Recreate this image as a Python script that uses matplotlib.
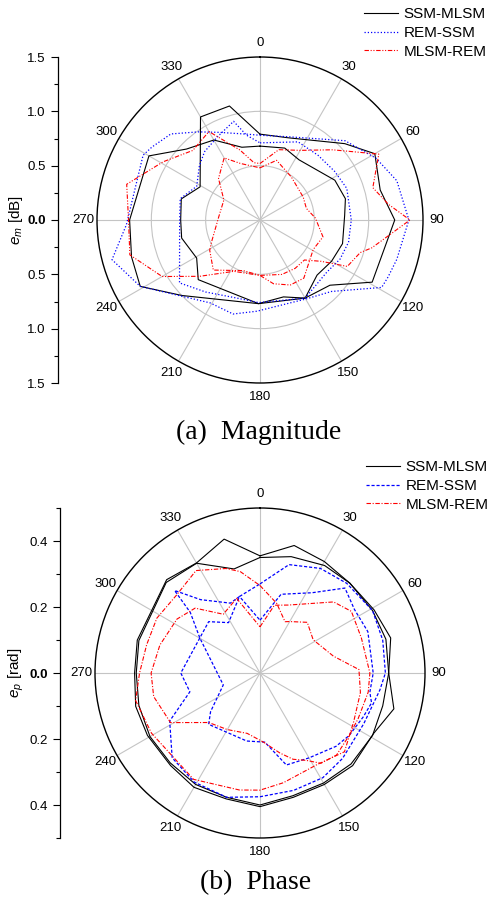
import numpy as np
import matplotlib
matplotlib.use('Agg')
import matplotlib.pyplot as plt

plt.rcParams['font.family'] = ['Liberation Sans', 'DejaVu Sans']
plt.rcParams['mathtext.fontset'] = 'custom'
plt.rcParams['mathtext.rm'] = 'Liberation Sans'
plt.rcParams['mathtext.it'] = 'Liberation Sans:italic'

# ---------------- data ----------------
series_labels = ['SSM-MLSM', 'REM-SSM', 'MLSM-REM']
angle_ticks = [0, 30, 60, 90, 120, 150, 180, 210, 240, 270, 300, 330]

# (a) Magnitude, e_m [dB]
mag_ssm_mlsm_1_th = [0, 19, 48, 60, 76, 90, 119, 133, 150, 163, 181, 226, 239, 257, 270, 285, 299, 330, 345, 360]
mag_ssm_mlsm_1_r = [0.79, 0.80, 1.05, 1.22, 1.14, 1.24, 1.18, 0.88, 0.83, 0.74, 0.77, 0.79, 0.68, 0.74, 0.73, 0.75, 0.63, 1.095, 1.086, 0.79]
mag_ssm_mlsm_2_th = [0, 19, 33, 62, 76, 87, 106, 120, 134, 150, 181, 226, 241, 254, 270, 300, 314, 330, 346, 360]
mag_ssm_mlsm_2_r = [0.68, 0.70, 0.66, 0.78, 0.81, 0.78, 0.79, 0.76, 0.73, 0.83, 0.77, 1.00, 1.26, 1.23, 1.20, 1.18, 0.94, 0.85, 0.69, 0.68]

mag_rem_ssm_1_th = [0, 19, 47, 62, 74, 90, 106, 114, 119, 135, 150, 182, 196, 211, 241, 255, 268, 299, 304, 314, 325, 335, 351, 360]
mag_rem_ssm_1_r = [0.78, 0.81, 1.07, 1.21, 1.31, 1.37, 1.31, 1.29, 1.28, 0.93, 0.84, 0.84, 0.90, 0.89, 1.26, 1.41, 1.23, 1.23, 1.20, 1.14, 0.99, 0.89, 0.80, 0.78]
mag_rem_ssm_2_th = [0, 26, 42, 57, 70, 90, 104, 116, 128, 150, 181, 197, 217, 232, 268, 285, 298, 312, 321, 333, 345, 351, 360]
mag_rem_ssm_2_r = [0.71, 0.80, 0.80, 0.82, 0.85, 0.84, 0.84, 0.82, 0.78, 0.83, 0.76, 0.75, 0.83, 0.94, 0.74, 0.76, 0.66, 0.75, 0.81, 0.86, 0.94, 0.79, 0.71]

mag_mlsm_rem_1_th = [0, 15, 30, 46, 61, 74, 83, 90, 97, 104, 108, 118, 124, 132, 144, 158, 180, 207, 227, 240, 255, 270, 285, 301, 316, 330, 344, 354, 360]
mag_mlsm_rem_1_r = [0.52, 0.67, 0.74, 0.93, 1.25, 1.08, 1.19, 1.38, 1.19, 1.06, 0.97, 0.91, 0.68, 0.55, 0.55, 0.54, 0.51, 0.53, 0.76, 1.04, 1.24, 1.21, 1.27, 1.04, 0.89, 0.94, 0.67, 0.53, 0.52]
mag_mlsm_rem_2_th = [0, 15.5, 36, 62, 76, 88, 105, 119, 143, 155, 168, 180, 198, 223, 239, 247, 275, 299, 315, 330, 341, 360]
mag_mlsm_rem_2_r = [0.48, 0.57, 0.49, 0.45, 0.44, 0.51, 0.60, 0.56, 0.67, 0.66, 0.60, 0.51, 0.49, 0.63, 0.54, 0.48, 0.38, 0.38, 0.54, 0.66, 0.55, 0.48]

# (b) Phase, e_p [rad]
pha_ssm_mlsm_1_th = [0, 15, 30, 45, 61, 75, 90, 105, 118, 135, 150, 165, 180, 195, 210, 224, 241, 255, 270, 285, 315, 330, 345, 360]
pha_ssm_mlsm_1_r = [0.355, 0.40, 0.39, 0.385, 0.395, 0.41, 0.39, 0.42, 0.39, 0.397, 0.39, 0.39, 0.405, 0.395, 0.40, 0.39, 0.39, 0.39, 0.38, 0.385, 0.40, 0.385, 0.42, 0.355]
pha_ssm_mlsm_2_th = [0, 15, 31, 45, 61, 75, 90, 105, 119, 135, 150, 165, 180, 195, 210, 225, 240, 255, 270, 285, 314, 330, 346, 360]
pha_ssm_mlsm_2_r = [0.35, 0.365, 0.38, 0.385, 0.39, 0.395, 0.39, 0.385, 0.39, 0.39, 0.385, 0.385, 0.40, 0.39, 0.39, 0.385, 0.385, 0.38, 0.375, 0.38, 0.395, 0.384, 0.325, 0.35]

pha_rem_ssm_1_th = [0, 15, 30, 44, 61, 75, 90, 98, 116, 136, 149, 164, 180, 195, 211, 226, 242, 255, 270, 315, 328, 345, 360]
pha_rem_ssm_1_r = [0.27, 0.34, 0.366, 0.378, 0.39, 0.385, 0.38, 0.367, 0.35, 0.36, 0.37, 0.37, 0.375, 0.39, 0.386, 0.37, 0.31, 0.22, 0.24, 0.22, 0.18, 0.24, 0.27]
pha_rem_ssm_2_th = [0, 15, 33, 45, 56, 69, 90, 100, 105, 113, 125, 134, 150, 164, 176, 191, 225, 232, 252, 300, 311, 314, 321, 337, 345, 360]
pha_rem_ssm_2_r = [0.16, 0.247, 0.29, 0.364, 0.345, 0.35, 0.343, 0.338, 0.35, 0.34, 0.33, 0.32, 0.297, 0.29, 0.21, 0.21, 0.22, 0.19, 0.117, 0.21, 0.28, 0.36, 0.286, 0.23, 0.24, 0.16]

pha_mlsm_rem_1_th = [0, 13.5, 26, 30, 43, 58, 77, 88, 101, 117.5, 133, 148, 168, 180, 190, 212, 241, 257.5, 270, 284, 298, 313, 328, 342, 349, 360]
pha_mlsm_rem_1_r = [0.265, 0.217, 0.173, 0.18, 0.21, 0.19, 0.228, 0.30, 0.31, 0.32, 0.35, 0.327, 0.34, 0.355, 0.36, 0.38, 0.376, 0.386, 0.365, 0.354, 0.354, 0.346, 0.366, 0.333, 0.313, 0.265]
pha_mlsm_rem_2_th = [0, 12, 22.6, 46, 56, 71, 90, 100, 115, 125, 137, 146, 152, 159, 166, 177, 192, 210, 226, 241, 257.5, 270, 285.6, 303, 315, 328, 342.6, 360]
pha_mlsm_rem_2_r = [0.14, 0.21, 0.223, 0.31, 0.334, 0.325, 0.333, 0.333, 0.328, 0.33, 0.34, 0.33, 0.30, 0.28, 0.25, 0.21, 0.187, 0.198, 0.216, 0.31, 0.33, 0.33, 0.315, 0.30, 0.278, 0.21, 0.237, 0.14]

# ---------------- styles ----------------
BLUE = '#0000ff'
RED = '#ff0000'
mag_styles = [dict(color='black', lw=0.8, linestyle='-'),
              dict(color=BLUE, lw=0.9, linestyle=(0, (1, 1.6))),
              dict(color=RED, lw=0.8, linestyle=(0, (4, 1.5, 1, 1.5, 1, 1.5)))]
pha_styles = [dict(color='black', lw=0.8, linestyle='-'),
              dict(color=BLUE, lw=0.9, linestyle=(0, (2.5, 1.5))),
              dict(color=RED, lw=0.8, linestyle=(0, (4, 1.5, 1, 1.5)))]

W, H = 491, 898
fig = plt.figure(figsize=(W / 100, H / 100), dpi=100)

TICK_FS = 9.5
LEG_FS = 11
CAP_FS = 20


def polar_panel(cx, cy, rad, rmax, rgrid, curves, styles):
    ax = fig.add_axes([(cx - rad) / W, 1 - (cy + rad) / H, 2 * rad / W, 2 * rad / H],
                      projection='polar')
    ax.set_theta_zero_location('N')
    ax.set_theta_direction(-1)
    ax.set_ylim(0, rmax)
    ax.set_xticks(np.deg2rad(angle_ticks))
    ax.set_xticklabels([str(a) for a in angle_ticks], fontsize=TICK_FS)
    ax.set_xticks(np.deg2rad(np.arange(15, 360, 30)), minor=True)
    ax.set_yticks(rgrid)
    ax.set_yticklabels([])
    ax.grid(True, which='major', color='#c4c4c4', lw=0.8)
    ax.tick_params(axis='x', which='major', direction='in', length=4, width=0.8, pad=3)
    ax.tick_params(axis='x', which='minor', direction='in', length=2.5, width=0.8)
    ax.tick_params(axis='y', length=0)
    ax.spines['polar'].set_linewidth(1.0)
    handles = []
    for k, group in enumerate(curves):
        for j, (th, r) in enumerate(group):
            ln, = ax.plot(np.deg2rad(th), r, **styles[k])
            if j == 0:
                handles.append(ln)
    return ax, handles


def side_axis(x, cy, rad, rmax, major, minor, label):
    ax = fig.add_axes([x / W, 1 - (cy + rad) / H, 0.0001, 2 * rad / H])
    ax.set_ylim(-rmax, rmax)
    for s in ['top', 'right', 'bottom']:
        ax.spines[s].set_visible(False)
    ax.spines['left'].set_linewidth(0.9)
    ax.patch.set_visible(False)
    ax.set_xticks([])
    ax.set_yticks(major)
    ax.set_yticklabels(['%.1f' % abs(v) for v in major])
    for t, v in zip(ax.get_yticklabels(), major):
        if v == 0:
            t.set_fontweight('bold')
    ax.set_yticks(minor, minor=True)
    ax.tick_params(axis='y', which='major', length=5, width=0.8, pad=4, labelsize=TICK_FS)
    ax.tick_params(axis='y', which='minor', length=3, width=0.8)
    fig.text(16 / W, 1 - cy / H, label, rotation=90, ha='center', va='center', fontsize=11)
    return ax


# ---- (a) Magnitude ----
mag_curves = [[(mag_ssm_mlsm_1_th, mag_ssm_mlsm_1_r), (mag_ssm_mlsm_2_th, mag_ssm_mlsm_2_r)],
              [(mag_rem_ssm_1_th, mag_rem_ssm_1_r), (mag_rem_ssm_2_th, mag_rem_ssm_2_r)],
              [(mag_mlsm_rem_1_th, mag_mlsm_rem_1_r), (mag_mlsm_rem_2_th, mag_mlsm_rem_2_r)]]
ax1, h1 = polar_panel(260, 220, 163, 1.5, [0.5, 1.0], mag_curves, mag_styles)
side_axis(58, 220, 163, 1.5, [-1.5, -1.0, -0.5, 0.0, 0.5, 1.0, 1.5],
          [-1.25, -0.75, -0.25, 0.25, 0.75, 1.25], r'$e_m$ [dB]')
fig.legend(h1, series_labels, loc='upper left', bbox_to_anchor=(364 / W, 1 - 7 / H),
           frameon=False, borderpad=0, borderaxespad=0, handlelength=2.2,
           handletextpad=0.4, labelspacing=0.32, fontsize=LEG_FS)
fig.text(259 / W, 1 - 432 / H, '(a)  Magnitude', ha='center', va='center',
         fontsize=CAP_FS, family=['Liberation Serif', 'DejaVu Serif'])

# ---- (b) Phase ----
pha_curves = [[(pha_ssm_mlsm_1_th, pha_ssm_mlsm_1_r), (pha_ssm_mlsm_2_th, pha_ssm_mlsm_2_r)],
              [(pha_rem_ssm_1_th, pha_rem_ssm_1_r), (pha_rem_ssm_2_th, pha_rem_ssm_2_r)],
              [(pha_mlsm_rem_1_th, pha_mlsm_rem_1_r), (pha_mlsm_rem_2_th, pha_mlsm_rem_2_r)]]
ax2, h2 = polar_panel(260, 673, 165, 0.5, [], pha_curves, pha_styles)
side_axis(60, 673, 165, 0.5, [-0.4, -0.2, 0.0, 0.2, 0.4],
          [-0.5, -0.3, -0.1, 0.1, 0.3, 0.5], r'$e_p$ [rad]')
fig.legend(h2, series_labels, loc='upper left', bbox_to_anchor=(366 / W, 1 - 460 / H),
           frameon=False, borderpad=0, borderaxespad=0, handlelength=2.2,
           handletextpad=0.4, labelspacing=0.32, fontsize=LEG_FS)
fig.text(256 / W, 1 - 883 / H, '(b)  Phase', ha='center', va='center',
         fontsize=CAP_FS, family=['Liberation Serif', 'DejaVu Serif'])

fig.savefig('out.png', dpi=100)
